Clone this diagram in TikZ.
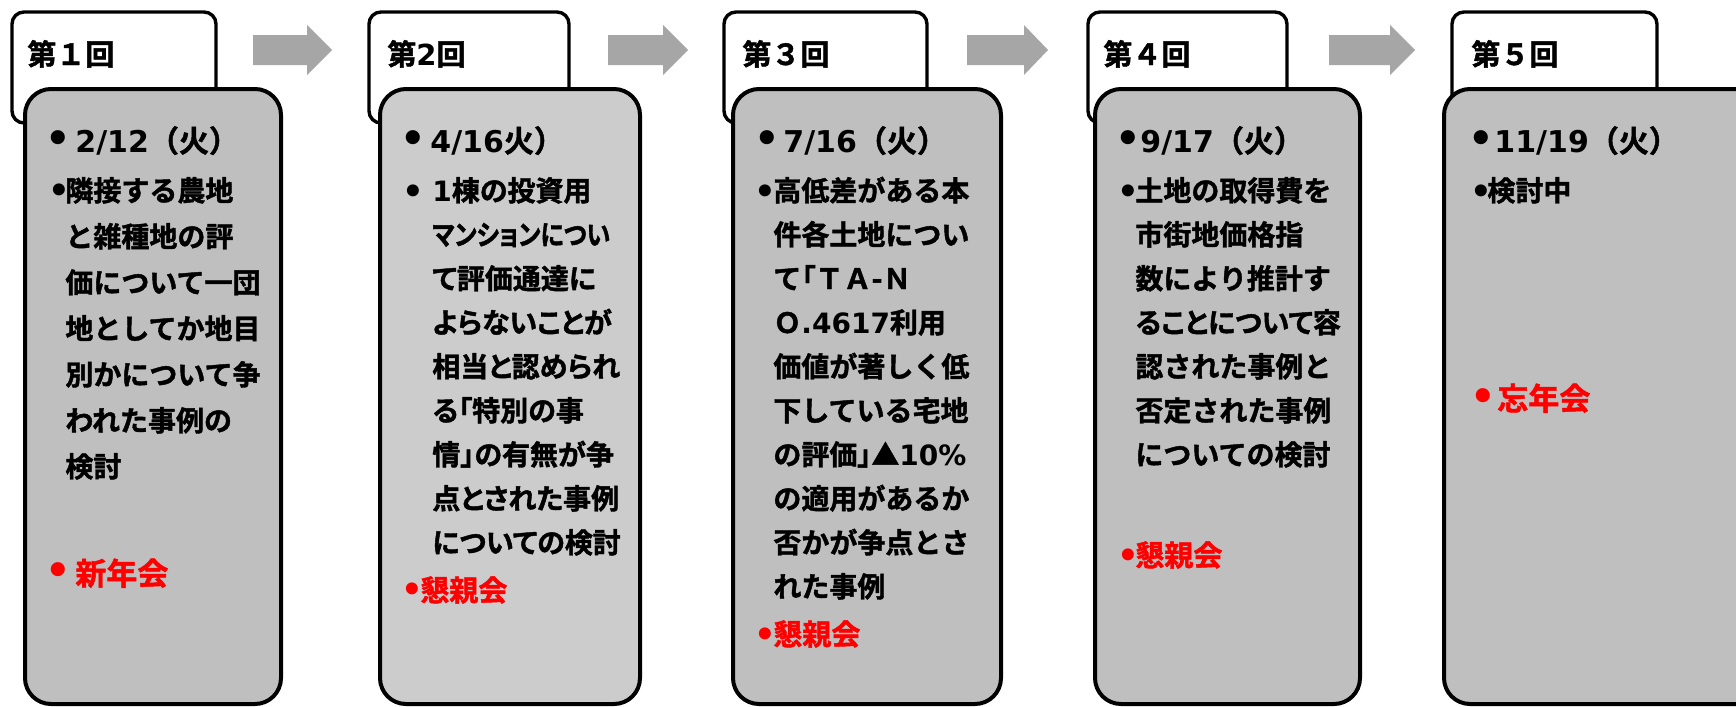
\documentclass[tikz,border=0pt]{standalone}
\usepackage{graphicx}
\usepackage{fontspec}
\setmainfont{Noto Sans CJK JP}[BoldFont={Noto Sans CJK JP Bold}, BoldFeatures={FakeBold=1.5}]
\newfontfamily\latfont{DejaVu Sans}
\newcommand\vd[1]{{\latfont\bfseries #1}}
\newcommand\pt[1]{{\addfontfeatures{RawFeature=+palt}#1}}
\newcommand\lines[1]{\begin{tabular}[t]{@{}l@{}}#1\end{tabular}}
\definecolor{boxgray}{RGB}{191,191,191}
\definecolor{boxgraylight}{RGB}{204,204,204}
\definecolor{arrowgray}{RGB}{166,166,166}
\definecolor{redtext}{RGB}{255,0,0}
\tikzset{
  mainbox/.style={draw=black, line width=2pt, rounded corners=13pt, fill=boxgray},
  headbox/.style={draw=black, line width=1.7pt, rounded corners=6pt, fill=white},
  flowarrow/.style={fill=arrowgray, draw=none},
  headtxt/.style={anchor=base west, inner sep=0pt, font=\fontsize{14.5}{17}\selectfont\bfseries},
  datetxt/.style={anchor=base west, inner sep=0pt, font=\fontsize{15}{18}\selectfont\bfseries},
  bodytxt/.style={anchor=base west, inner sep=0pt, font=\fontsize{14}{22}\selectfont\bfseries},
  redtxt/.style={anchor=base west, inner sep=0pt, text=redtext, font=\fontsize{14.5}{17}\selectfont\bfseries},
  bigbul/.style={anchor=center, inner sep=0pt, font=\latfont\fontsize{20}{20}\selectfont\bfseries},
  smallbul/.style={anchor=center, inner sep=0pt, font=\latfont\fontsize{17}{17}\selectfont\bfseries},
}
\begin{document}
\begin{tikzpicture}[x=0.5pt,y=-0.5pt]
\useasboundingbox (0,0) rectangle (1736,707);
\clip (0,0) rectangle (1736,707);
\fill[white] (0,0) rectangle (1736,707);

% arrows
\fill[flowarrow] (253,35) -- (307,35) -- (307,25) -- (332,50) -- (307,75) -- (307,65) -- (253,65) -- cycle;
\fill[flowarrow] (608,35) -- (663,35) -- (663,25) -- (688,50) -- (663,75) -- (663,65) -- (608,65) -- cycle;
\fill[flowarrow] (967,35) -- (1024,35) -- (1024,25) -- (1048,50) -- (1024,75) -- (1024,65) -- (967,65) -- cycle;
\fill[flowarrow] (1329,35) -- (1390,35) -- (1390,25) -- (1415,50) -- (1390,75) -- (1390,65) -- (1329,65) -- cycle;

% box 1
\draw[headbox] (12,12) rectangle (216,123);
\node[headtxt] (h1) at (27,65) {第１回};
\draw[mainbox] (25,89) rectangle (281,704);
\node[bigbul] (d1b) at (58.5,142) {•};
\node[datetxt] (d1) at (75,152) {\vd{2/12}（火）};
\node[smallbul] (b1b) at (59,193) {•};
\node[bodytxt] (b1) at (65,201) {\fontsize{14}{23}\selectfont\lines{隣接する農地\\と雑種地の評\\価について一団\\地としてか地目\\別かについて争\\われた事例の\\検討}};
\node[bigbul, text=redtext] (r1b) at (58,574) {•};
\node[redtxt, font=\fontsize{15.5}{18}\selectfont\bfseries] (r1) at (75,585) {新年会};

% box 2
\draw[headbox] (369,12) rectangle (569,123);
\node[headtxt] (h2) at (387,65) {第\vd{2}回};
\draw[mainbox, fill=boxgraylight] (380,89) rectangle (640,704);
\node[bigbul] (d2b) at (413,142) {•};
\node[datetxt] (d2) at (430,152) {\vd{4/16}火）};
\node[smallbul] (b2b) at (413,194) {•};
\node[bodytxt] (b2) at (432,201) {\pt{\lines{\vd{1}棟の投資用\\\scalebox{0.86}[1]{マンションについ}\\て評価通達に\\よらないことが\\相当と認められ\\る「特別の事\\情」の有無が争\\点とされた事例\\についての検討}}};
\node[smallbul, text=redtext] (r2b) at (412,592) {•};
\node[redtxt] (r2) at (420,601) {懇親会};

% box 3
\draw[headbox] (724,12) rectangle (927,123);
\node[headtxt] (h3) at (742,65) {第３回};
\draw[mainbox] (733,89) rectangle (1001,704);
\node[bigbul] (d3b) at (767,142) {•};
\node[datetxt] (d3) at (783,152) {\vd{7/16}（火）};
\node[smallbul] (b3b) at (765,194) {•};
\node[bodytxt] (b3) at (773,201) {\lines{高低差がある本\\件各土地につい\\て\pt{「}ＴＡ\vd{-}Ｎ\\Ｏ\vd{.4617}利用\\価値が著しく低\\下している宅地\\の評価\pt{」}▲\vd{10\%}\\の適用があるか\\否かが争点とさ\\れた事例}};
\node[smallbul, text=redtext] (r3b) at (765,637) {•};
\node[redtxt] (r3) at (773,645) {懇親会};

% box 4
\draw[headbox] (1088,12) rectangle (1287,123);
\node[headtxt] (h4) at (1103,65) {第４回};
\draw[mainbox] (1095,89) rectangle (1360,704);
\node[bigbul] (d4b) at (1128,142) {•};
\node[datetxt] (d4) at (1140,152) {\vd{9/17}（火）};
\node[smallbul] (b4b) at (1128,194) {•};
\node[bodytxt] (b4) at (1135,201) {\lines{土地の取得費を\\市街地価格指\\数により推計す\\\pt{ることについて}容\\認された事例と\\否定された事例\\についての検討}};
\node[smallbul, text=redtext] (r4b) at (1128,558) {•};
\node[redtxt] (r4) at (1135,566) {懇親会};

% box 5
\draw[headbox] (1452,12) rectangle (1657,123);
\node[headtxt] (h5) at (1471,65) {第５回};
\draw[mainbox] (1444,89) rectangle (1800,704);
\node[bigbul] (d5b) at (1481,142) {•};
\node[datetxt] (d5) at (1494,152) {\vd{11/19}（火）};
\node[smallbul] (b5b) at (1481,194) {•};
\node[bodytxt] (b5) at (1487,201) {検討中};
\node[bigbul, text=redtext] (r5b) at (1483,400) {•};
\node[redtxt, font=\fontsize{15.5}{18}\selectfont\bfseries] (r5) at (1497,410) {忘年会};
\end{tikzpicture}
\end{document}
